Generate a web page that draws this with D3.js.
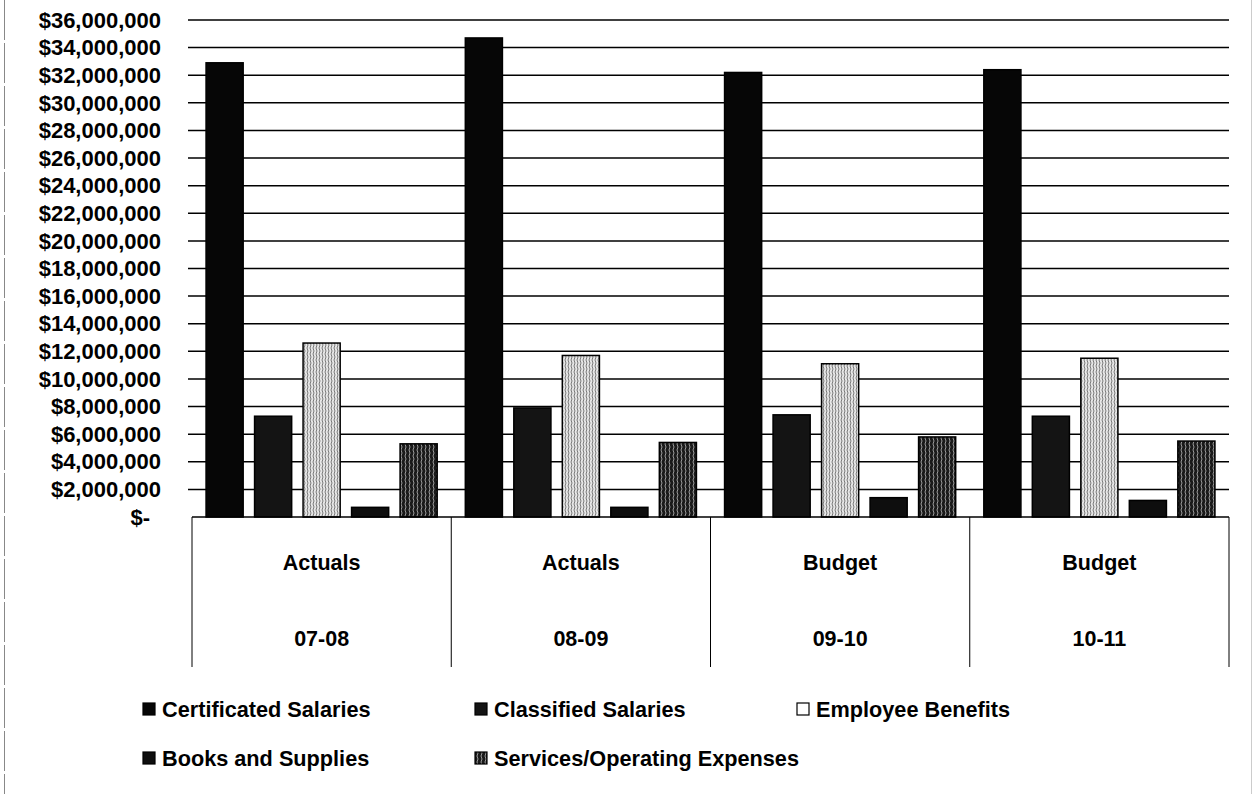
<!DOCTYPE html>
<html><head><meta charset="utf-8">
<script src="https://cdn.jsdelivr.net/npm/d3@7"></script>
<style>html,body{margin:0;padding:0;background:#fff;}svg{display:block;}</style>
</head><body>
<svg id="c" width="1256" height="794"></svg>
<script>
const categoriesTop = ["Actuals","Actuals","Budget","Budget"];
const categoriesBottom = ["07-08","08-09","09-10","10-11"];
const seriesNames = ["Certificated Salaries","Classified Salaries","Employee Benefits","Books and Supplies","Services/Operating Expenses"];
const certificated = [32900000, 34700000, 32200000, 32400000];
const classified   = [7300000, 7900000, 7400000, 7300000];
const benefits     = [12600000, 11700000, 11100000, 11500000];
const books        = [700000, 700000, 1400000, 1200000];
const services     = [5300000, 5400000, 5800000, 5500000];
const yTicks = d3.range(0, 36000001, 2000000);

(function(){
const seriesValues = [certificated, classified, benefits, books, services];
const svg = d3.select("#c");
const font = "'Liberation Sans', Arial, sans-serif";

const defs = svg.append("defs");
function pat(id, bg, fg, w){
  const p = defs.append("pattern").attr("id", id).attr("width", w).attr("height", 6).attr("patternUnits","userSpaceOnUse");
  p.append("rect").attr("width", w).attr("height", 6).attr("fill", bg);
  p.append("path").attr("d", `M1,0 L2,3 L1,6`).attr("stroke", fg).attr("stroke-width", 1).attr("fill","none");
  return `url(#${id})`;
}
const fills = [
  "#060606",
  "#141414",
  pat("pBen", "#e6e6e6", "#7a7a7a", 3),
  "#0e0e0e",
  pat("pSvc", "#1a1a1a", "#9a9a9a", 4)
];

svg.append("line").attr("x1", 4.5).attr("x2", 4.5).attr("y1", 0).attr("y2", 794)
  .attr("stroke","#888").attr("stroke-width",1).attr("stroke-dasharray","40,3");
svg.append("line").attr("x1", 1251.5).attr("x2", 1251.5).attr("y1", 0).attr("y2", 794)
  .attr("stroke","#ccc").attr("stroke-width",1);

const pl = 192, pr = 1229, pt = 20, base = 517;
const x0 = d3.scaleBand().domain(d3.range(4)).range([pl, pr]).paddingInner(0).paddingOuter(0);
const x1 = d3.scaleBand().domain(d3.range(5)).range([0, x0.bandwidth()]).paddingInner(0.235).paddingOuter(0.29);
const y = d3.scaleLinear().domain([0, 36000000]).range([base, pt]);

svg.append("g").selectAll("line").data(yTicks.filter(d => d > 0)).join("line")
  .attr("x1", pl - 4).attr("x2", pr).attr("y1", d => y(d)).attr("y2", d => y(d))
  .attr("stroke", "#000").attr("stroke-width", 1.5);

const fmt = d3.format("$,");
svg.append("g").selectAll("text").data(yTicks).join("text")
  .attr("x", d => d === 0 ? 150 : 161).attr("y", d => y(d)).attr("dy", "0.35em")
  .attr("text-anchor", "end").attr("font-family", font).attr("font-weight", "bold").attr("font-size", 22)
  .text(d => d === 0 ? "$-" : fmt(d));

const g = svg.append("g");
seriesValues.forEach((vals, si) => {
  g.selectAll(null).data(vals).join("rect")
    .attr("x", (d, i) => x0(i) + x1(si)).attr("width", x1.bandwidth())
    .attr("y", d => y(d)).attr("height", d => base - y(d))
    .attr("fill", fills[si]).attr("stroke", "#000").attr("stroke-width", 1.5);
});

const ax = svg.append("g");
ax.append("line").attr("x1", pl).attr("x2", pr).attr("y1", base).attr("y2", base).attr("stroke","#000").attr("stroke-width",1.5);
const seps = d3.range(5).map(i => i < 4 ? x0(i) : pr);
ax.selectAll("line.sep").data(seps).join("line").attr("class","sep")
  .attr("x1", d => d).attr("x2", d => d).attr("y1", base).attr("y2", 667)
  .attr("stroke","#000").attr("stroke-width",1);
ax.selectAll("text.top").data(categoriesTop).join("text").attr("class","top")
  .attr("x", (d, i) => x0(i) + x0.bandwidth()/2).attr("y", 562).attr("dy","0.35em")
  .attr("text-anchor","middle").attr("font-family", font).attr("font-weight","bold").attr("font-size", 21.5).text(d => d);
ax.selectAll("text.bot").data(categoriesBottom).join("text").attr("class","bot")
  .attr("x", (d, i) => x0(i) + x0.bandwidth()/2).attr("y", 638).attr("dy","0.35em")
  .attr("text-anchor","middle").attr("font-family", font).attr("font-weight","bold").attr("font-size", 21.5).text(d => d);

const legPos = [[143,709],[475,709],[797,709],[143,758],[475,758]];
const lg = svg.append("g");
seriesNames.forEach((name, i) => {
  const [lx, ly] = legPos[i];
  lg.append("rect").attr("x", lx).attr("y", ly - 6).attr("width", 12).attr("height", 12)
    .attr("fill", i === 2 ? "#fff" : fills[i]).attr("stroke","#000").attr("stroke-width",1.2);
  lg.append("text").attr("x", lx + 19).attr("y", ly).attr("dy","0.35em")
    .attr("font-family", font).attr("font-weight","bold").attr("font-size", 21.7).text(name);
});
})();
</script>
</body></html>
